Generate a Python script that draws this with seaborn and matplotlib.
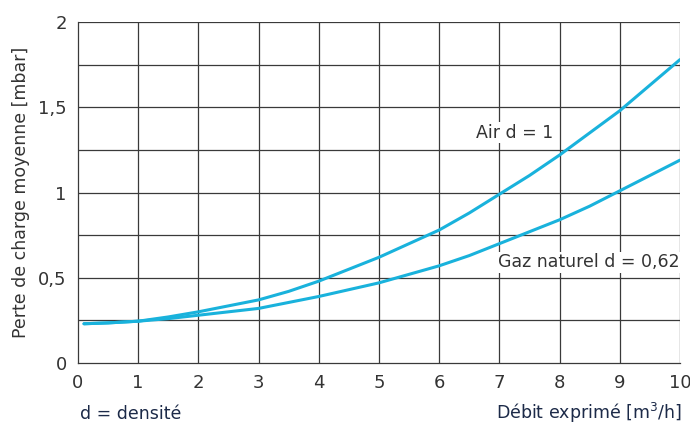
import numpy as np
import pandas as pd
import matplotlib
matplotlib.use("Agg")
import matplotlib.pyplot as plt
import seaborn as sns

# --- Data ---
debit = [0.1, 0.5, 1, 1.5, 2, 2.5, 3, 3.5, 4, 4.5, 5, 5.5, 6, 6.5, 7, 7.5, 8, 8.5, 9, 9.5, 10]
air = [0.23, 0.235, 0.245, 0.27, 0.30, 0.335, 0.37, 0.42, 0.48, 0.55, 0.62, 0.70, 0.78, 0.88, 0.99, 1.10, 1.22, 1.35, 1.48, 1.63, 1.78]
gaz = [0.23, 0.235, 0.245, 0.26, 0.28, 0.30, 0.32, 0.355, 0.39, 0.43, 0.47, 0.52, 0.57, 0.63, 0.70, 0.77, 0.84, 0.92, 1.01, 1.10, 1.19]

x_ticks = list(range(0, 11))
y_ticks = [0, 0.5, 1, 1.5, 2]
y_tick_labels = ["0", "0,5", "1", "1,5", "2"]
y_grid = [0.25, 0.5, 0.75, 1, 1.25, 1.5, 1.75, 2]

LINE_COLOR = "#19b2dc"
GRID_COLOR = "#3a3a3a"
TEXT_COLOR = "#1c2a48"

sns.set_style("white")
plt.rcParams["font.family"] = ["DejaVu Sans"]

df = pd.concat([
    pd.DataFrame({"debit": debit, "perte": air, "gaz": "Air"}),
    pd.DataFrame({"debit": debit, "perte": gaz, "gaz": "Gaz naturel"}),
])

fig = plt.figure(figsize=(6.9, 4.25), dpi=100)
ax = fig.add_axes([0.113, 0.146, 0.8725, 0.802])

# grid
for gx in x_ticks[1:]:
    ax.axvline(gx, color=GRID_COLOR, lw=0.9, zorder=1)
for gy in y_grid:
    ax.axhline(gy, color=GRID_COLOR, lw=0.9, zorder=1)

sns.lineplot(data=df, x="debit", y="perte", hue="gaz",
             palette=[LINE_COLOR, LINE_COLOR], linewidth=2.2,
             legend=False, ax=ax, zorder=3)

ax.set_xlim(0, 10)
ax.set_ylim(0, 2)
ax.set_xticks(x_ticks)
ax.set_yticks(y_ticks)
ax.set_yticklabels(y_tick_labels)
ax.tick_params(axis="both", direction="out", length=5, width=0.9,
               color=GRID_COLOR, labelsize=13, labelcolor="#333333", pad=3)

for side in ["top", "right"]:
    ax.spines[side].set_visible(False)
for side in ["left", "bottom"]:
    ax.spines[side].set_color(GRID_COLOR)
    ax.spines[side].set_linewidth(0.9)

ax.set_xlabel("")
ax.set_ylabel("Perte de charge moyenne [mbar]", fontsize=12.5, color="#333333", labelpad=6)

ax.text(7.9, 1.35, "Air d = 1", fontsize=12.5, color="#333333", ha="right", va="center",
        bbox=dict(facecolor="white", edgecolor="none", pad=1), zorder=4)
ax.text(10.0, 0.59, "Gaz naturel d = 0,62", fontsize=12.5, color="#333333", ha="right", va="center",
        bbox=dict(facecolor="white", edgecolor="none", pad=1), zorder=4)

fig.text(80 / 690, 1 - 419 / 425, "d = densité", fontsize=12.5, color=TEXT_COLOR, ha="left", va="baseline")
fig.text(682 / 690, 1 - 419 / 425, "Débit exprimé [m$^3$/h]", fontsize=12.5, color=TEXT_COLOR, ha="right", va="baseline")

fig.savefig("out.png", dpi=100)
